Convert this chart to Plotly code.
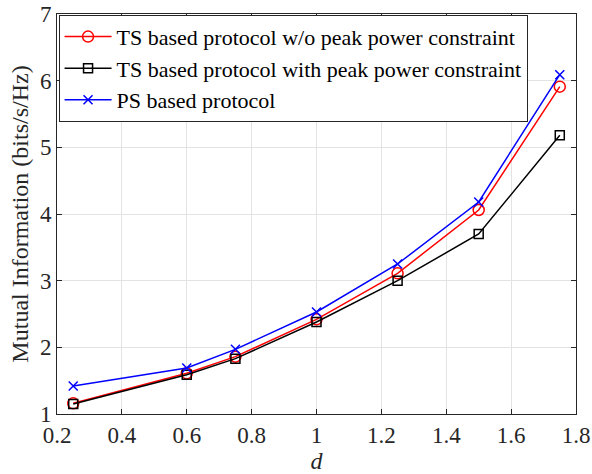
import plotly.graph_objects as go

d = [0.25, 0.6, 0.75, 1.0, 1.25, 1.5, 1.75]
ts_no_peak = [1.16, 1.61, 1.86, 2.42, 3.11, 4.06, 5.91]
ts_peak = [1.15, 1.59, 1.83, 2.38, 3.0, 3.70, 5.18]
ps = [1.42, 1.69, 1.97, 2.53, 3.25, 4.18, 6.09]

names = [
    "TS based protocol w/o peak power constraint",
    "TS based protocol with peak power constraint",
    "PS based protocol",
]

font = "Liberation Serif"

fig = go.Figure()
fig.add_trace(go.Scatter(
    x=d, y=ts_no_peak, name=names[0], mode="lines+markers",
    line=dict(color="#ff0000", width=1.5),
    marker=dict(symbol="circle-open", size=11, color="#ff0000", line=dict(width=1.5)),
))
fig.add_trace(go.Scatter(
    x=d, y=ts_peak, name=names[1], mode="lines+markers",
    line=dict(color="#000000", width=1.5),
    marker=dict(symbol="square-open", size=9, color="#000000", line=dict(width=1.5)),
))
fig.add_trace(go.Scatter(
    x=d, y=ps, name=names[2], mode="lines+markers",
    line=dict(color="#0000ff", width=1.5),
    marker=dict(symbol="x-thin-open", size=9, color="#0000ff", line=dict(width=1.5, color="#0000ff")),
))

axis_common = dict(
    showline=True, linecolor="#262626", linewidth=1, mirror="ticks",
    ticks="inside", ticklen=5, tickcolor="#262626",
    showgrid=True, gridcolor="#e3e3e3", gridwidth=1,
    zeroline=False, automargin=False,
    tickfont=dict(family=font, size=23, color="#262626"),
)

fig.update_layout(
    width=592, height=474,
    margin=dict(l=57, r=16, t=14, b=60),
    paper_bgcolor="white", plot_bgcolor="white",
    font=dict(family=font, color="#262626"),
    xaxis=dict(
        range=[0.2, 1.8], tickmode="array",
        tickvals=[0.2, 0.4, 0.6, 0.8, 1.0, 1.2, 1.4, 1.6, 1.8],
        ticktext=["0.2", "0.4", "0.6", "0.8", "1", "1.2", "1.4", "1.6", "1.8"],
        title=dict(text="<i>d</i>", font=dict(family=font, size=24, color="#262626"), standoff=0),
        **axis_common,
    ),
    yaxis=dict(
        range=[1, 7], tickmode="array", tickvals=[1, 2, 3, 4, 5, 6, 7],
        title=dict(text="Mutual Information (bits/s/Hz)", font=dict(family=font, size=24, color="#262626"), standoff=4),
        **axis_common,
    ),
    legend=dict(
        x=0.003, y=0.998, xanchor="left", yanchor="top",
        bgcolor="white", bordercolor="#262626", borderwidth=1,
        font=dict(family=font, size=22, color="#000000"),
        tracegroupgap=0, itemwidth=47,
        entrywidth=480, entrywidthmode="pixels",
    ),
    showlegend=True,
)

fig.write_html("out.html")
